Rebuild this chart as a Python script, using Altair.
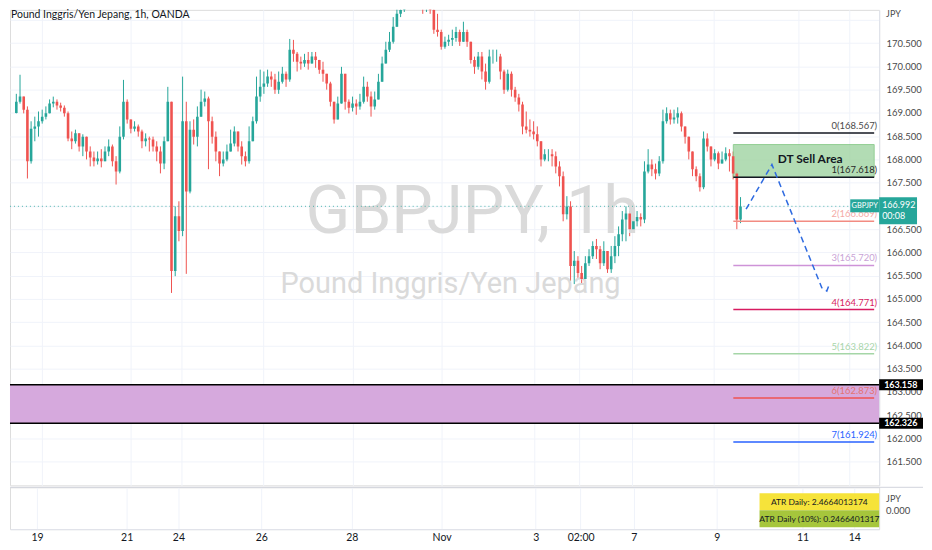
import altair as alt
import pandas as pd

# ---------------- data (2-hour candles, GBPJPY) ----------------
close = [169.24, 169.35, 169.07, 167.96, 168.66, 168.71, 168.82, 168.92, 168.99, 169.20,
         169.24, 169.16, 169.11, 168.99, 168.45, 168.39, 168.56, 168.28, 168.49, 168.17,
         168.04, 167.96, 168.02, 167.96, 168.17, 168.28, 167.96, 167.74, 168.49, 169.24,
         168.86, 168.66, 168.71, 168.60, 168.39, 168.45, 168.43, 168.28, 168.17, 167.91,
         168.39, 169.24, 165.60, 166.78, 166.46, 168.82, 167.31, 168.64, 168.49, 168.92,
         169.24, 169.31, 168.82, 168.49, 168.17, 167.91, 168.00, 168.17, 168.34, 168.60,
         168.28, 168.07, 167.96, 168.39, 168.82, 169.35, 169.56, 169.63, 169.78, 169.72,
         169.50, 169.67, 169.84, 169.72, 170.36, 170.27, 170.10, 170.06, 170.14, 170.06,
         170.21, 170.14, 169.93, 169.84, 169.63, 169.24, 168.86, 169.20, 169.84, 169.24,
         169.11, 169.20, 169.14, 169.24, 169.56, 169.35, 169.14, 169.29, 169.67, 170.06,
         170.36, 170.53, 170.85, 171.13, 171.21, 171.34, 171.56, 171.64, 171.60, 171.49,
         171.28, 171.34, 171.21, 170.79, 170.74, 170.42, 170.53, 170.57, 170.61, 170.74,
         170.53, 170.74, 170.53, 170.14, 169.99, 170.21, 169.89, 169.67, 170.21, 170.21,
         170.21, 169.89, 169.50, 169.84, 169.50, 169.33, 169.18, 168.71, 168.64, 168.60,
         168.54, 168.39, 168.00, 168.11, 168.11, 168.07, 167.85, 167.64, 166.82, 166.99,
         165.71, 165.82, 165.56, 165.43, 165.77, 165.92, 166.14, 166.07, 165.77, 166.03,
         165.64, 165.92, 166.14, 166.39, 166.71, 166.84, 166.50, 166.67, 166.76, 166.71,
         167.74, 167.89, 167.79, 167.70, 167.96, 168.82, 168.99, 168.86, 168.90, 168.99,
         168.71, 168.49, 168.17, 167.79, 167.64, 167.40, 168.45, 168.28, 168.00, 168.13,
         167.91, 168.00, 168.13, 168.07, 167.70, 166.71, 166.99]

high = [169.41, 169.82, 169.35, 169.14, 168.82, 168.92, 169.03, 169.07, 169.14, 169.29,
        169.35, 169.29, 169.22, 169.16, 169.03, 168.60, 168.64, 168.56, 168.54, 168.49,
        168.28, 168.17, 168.17, 168.22, 168.28, 168.43, 168.32, 168.07, 168.71, 169.71,
        169.29, 168.86, 168.82, 168.75, 168.64, 168.56, 168.49, 168.49, 168.39, 168.28,
        168.49, 169.56, 169.24, 166.99, 167.10, 169.78, 169.24, 168.82, 168.86, 169.14,
        169.50, 169.46, 169.35, 168.92, 168.60, 168.17, 168.17, 168.32, 168.64, 168.71,
        168.60, 168.39, 168.17, 168.71, 168.92, 169.78, 169.93, 169.89, 169.93, 169.89,
        169.84, 169.89, 169.99, 169.89, 170.59, 170.57, 170.31, 170.21, 170.27, 170.31,
        170.31, 170.31, 170.14, 170.10, 169.84, 169.67, 169.24, 169.35, 169.99, 169.78,
        169.29, 169.35, 169.29, 169.41, 169.78, 169.67, 169.46, 169.46, 169.84, 170.21,
        170.53, 170.74, 171.06, 171.34, 171.49, 171.60, 171.81, 171.92, 171.86, 171.81,
        171.60, 171.56, 171.49, 171.28, 171.13, 170.79, 170.64, 170.68, 170.79, 170.85,
        170.79, 170.96, 170.79, 170.53, 170.21, 170.31, 170.31, 170.06, 170.36, 170.36,
        170.36, 170.27, 169.93, 169.93, 169.89, 169.56, 169.41, 169.24, 169.03, 168.86,
        168.82, 168.71, 168.39, 168.22, 168.22, 168.22, 168.17, 167.96, 167.74, 167.21,
        167.10, 166.03, 165.92, 165.71, 165.92, 166.07, 166.24, 166.29, 166.14, 166.24,
        166.03, 166.14, 166.35, 166.56, 166.89, 166.99, 166.89, 166.84, 166.89, 166.84,
        167.96, 168.22, 168.00, 167.91, 168.07, 169.07, 169.12, 169.07, 169.07, 169.12,
        169.03, 168.71, 168.49, 168.17, 167.85, 167.70, 168.60, 168.56, 168.28, 168.22,
        168.17, 168.17, 168.26, 168.22, 168.17, 167.74, 167.19]

low = [168.99, 169.20, 168.99, 167.59, 167.91, 168.39, 168.49, 168.77, 168.86, 169.03,
       169.12, 169.07, 169.03, 168.92, 168.39, 168.22, 168.34, 168.17, 168.07, 168.00,
       167.85, 167.85, 167.89, 167.83, 167.96, 168.07, 167.85, 167.46, 167.70, 168.43,
       168.77, 168.56, 168.60, 168.49, 168.24, 168.28, 168.17, 168.17, 167.96, 167.70,
       167.79, 168.39, 165.13, 165.49, 166.24, 166.35, 165.54, 167.27, 168.32, 168.28,
       169.03, 169.14, 167.79, 168.34, 167.96, 167.64, 167.85, 167.96, 168.17, 168.28,
       168.17, 167.89, 167.85, 167.91, 168.39, 168.77, 169.24, 169.41, 169.56, 169.56,
       169.41, 169.41, 169.63, 169.56, 169.67, 170.10, 169.89, 169.93, 169.99, 169.93,
       170.06, 169.97, 169.84, 169.67, 169.50, 169.14, 168.77, 168.86, 169.24, 169.07,
       168.99, 169.03, 168.96, 169.07, 169.20, 169.24, 168.92, 169.07, 169.29, 169.67,
       170.10, 170.31, 170.49, 170.85, 171.06, 171.17, 171.28, 171.43, 171.39, 171.28,
       171.13, 171.17, 171.13, 170.70, 170.64, 170.36, 170.38, 170.44, 170.44, 170.53,
       170.44, 170.53, 170.42, 170.06, 169.84, 169.93, 169.72, 169.50, 169.63, 170.06,
       170.10, 169.72, 169.41, 169.46, 169.35, 169.24, 169.03, 168.54, 168.56, 168.49,
       168.43, 168.28, 167.85, 167.96, 167.96, 167.85, 167.70, 167.42, 166.67, 166.71,
       165.39, 165.32, 165.43, 165.34, 165.43, 165.71, 165.86, 165.86, 165.64, 165.71,
       165.56, 165.56, 165.77, 165.92, 166.24, 166.24, 166.35, 166.46, 166.56, 166.56,
       166.63, 167.70, 167.64, 167.57, 167.64, 167.91, 168.77, 168.75, 168.77, 168.77,
       168.60, 168.34, 168.00, 167.64, 167.53, 167.31, 167.36, 168.17, 167.85, 167.96,
       167.79, 167.91, 167.96, 167.74, 167.57, 166.50, 166.63]

first_open = 169.00
first_hour = 5
bar_hours = 2

# x-axis ticks (hour index from chart start) and their labels
tick_hours = [18.7, 66.7, 94.4, 138.7, 187.2, 235.2, 285.6, 309.6, 338.1, 382.4, 428.3, 456.0]
tick_labels = ["19", "21", "24", "26", "28", "Nov", "3", "02:00", "7", "9", "11", "14"]

price_ticks = [161.5, 162.0, 162.5, 163.0, 163.5, 164.0, 164.5, 165.0, 165.5, 166.0,
               166.5, 167.0, 167.5, 168.0, 168.5, 169.0, 169.5, 170.0, 170.5, 171.0]
hidden_ticks = [167.0, 171.0]   # covered by the price tag / the JPY caption

# Fibonacci levels
fib_levels = ["0", "1", "2", "3", "4", "5", "6", "7"]
fib_prices = [168.567, 167.618, 166.669, 165.720, 164.771, 163.822, 162.873, 161.924]
fib_line_colors = ["#131722", "#131722", "#f28b82", "#ce93d8", "#d81b60", "#a5d6a7", "#ef5350", "#2962ff"]
fib_text_colors = ["#4a4a4a", "#2a2a2a", "#f4aaa6", "#c9a3d6", "#d81b60", "#a8d5aa", "#e57373", "#2962ff"]
fib_start_hour = 393.1

# DT sell area box
sell_low, sell_high = 167.618, 168.32
sell_label = "DT Sell Area"
sell_label_hour, sell_label_price = 434.7, 168.0

# support zone
zone_low, zone_high = 162.326, 163.158

# projected path (dashed)
path_hours = [400.0, 414.0, 441.0, 443.7, 445.3]
path_prices = [166.93, 167.89, 165.24, 165.17, 165.34]

last_price = 166.992
countdown = "00:08"
symbol = "GBPJPY"
title_text = "Pound Inggris/Yen Jepang, 1h, OANDA"
wm_big = "GBPJPY, 1h"
wm_small = "Pound Inggris/Yen Jepang"
atr_lines = ["ATR Daily: 2.4664013174", "ATR Daily (10%): 0.2466401317"]

# ---------------- layout ----------------
W = 872
H_MAIN = 477
H_ATR = 42
PX_PER_HOUR = 1.875
X0 = 4.27
X1 = X0 + W / PX_PER_HOUR
Y0, Y1 = 160.994, 171.215
UP, DOWN = "#26a69a", "#ef5350"
FONT = "Lato"
WM_FONT = "Roboto"
GRID = "#f0f3fa"
LBL = "#4a4a4a"

xs = alt.Scale(domain=[X0, X1], nice=False, zero=False)
ys = alt.Scale(domain=[Y0, Y1], nice=False, zero=False)

labels_js = "[" + ",".join(f"'{t}'" for t in tick_labels) + "]"
hours_js = "[" + ",".join(str(h) for h in tick_hours) + "]"
x_label_expr = f"{labels_js}[indexof({hours_js}, datum.value)]"
hidden_js = "[" + ",".join(str(v) for v in hidden_ticks) + "]"
y_label_expr = f"indexof({hidden_js}, datum.value) >= 0 ? '' : format(datum.value, '.3f')"

main_x_axis = alt.Axis(values=tick_hours, labels=False, ticks=False, domain=False,
                       grid=True, gridColor=GRID, title=None)
y_axis = alt.Axis(orient="right", values=price_ticks, labelExpr=y_label_expr, title=None, ticks=False,
                  domain=True, domainColor="#e0e3eb", grid=True, gridColor=GRID,
                  labelPadding=7, labelFontSize=9.5, labelColor=LBL, labelFont=FONT)


def X(f):
    return alt.X(f, type="quantitative", scale=xs, axis=main_x_axis)


def Y(f):
    return alt.Y(f, type="quantitative", scale=ys, axis=y_axis)


n = len(close)
hours = [first_hour + bar_hours * i for i in range(n)]
opens = [first_open] + close[:-1]
df = pd.DataFrame(dict(hour=hours, open=opens, high=high, low=low, close=close))
df["high"] = df[["high", "open", "close"]].max(axis=1)
df["low"] = df[["low", "open", "close"]].min(axis=1)
df["dir"] = ["up" if c >= o else "down" for o, c in zip(df.open, df.close)]
ccol = alt.Color("dir:N", scale=alt.Scale(domain=["up", "down"], range=[UP, DOWN]), legend=None)

one = pd.DataFrame({"k": [0]})

zone = alt.Chart(pd.DataFrame({"lo": [zone_low], "hi": [zone_high]})).mark_rect(
    color="#d6a9dd").encode(x=alt.value(0), x2=alt.value(W), y=Y("lo"), y2="hi")

wm1 = alt.Chart(one).mark_text(text=wm_big, font=WM_FONT, fontSize=66, color="#dadada",
                               align="center", baseline="middle").encode(
    x=alt.value(464), y=alt.value(204))
wm2 = alt.Chart(one).mark_text(text=wm_small, font=WM_FONT, fontSize=29, color="#dadada",
                               align="center", baseline="middle").encode(
    x=alt.value(442), y=alt.value(275))

price_line = alt.Chart(pd.DataFrame({"p": [last_price]})).mark_rule(
    color=UP, strokeDash=[1, 3], strokeWidth=1, opacity=0.8).encode(
    x=alt.value(0), x2=alt.value(W), y=Y("p"))

sell_box = alt.Chart(pd.DataFrame({"a": [fib_start_hour], "b": [X1], "lo": [sell_low], "hi": [sell_high]})
                     ).mark_rect(color="#a5d6a7", opacity=0.85, stroke="#81c784", strokeWidth=1).encode(
    x=X("a"), x2="b", y=Y("lo"), y2="hi")

wick = alt.Chart(df).mark_rule(clip=True, strokeWidth=1).encode(
    x=X("hour"), y=Y("low"), y2="high", color=ccol)
body = alt.Chart(df).mark_bar(clip=True, width=2.6).encode(
    x=X("hour"), y=Y("open"), y2="close", color=ccol)

fib_df = pd.DataFrame({
    "level": fib_levels, "price": fib_prices, "lc": fib_line_colors, "tc": fib_text_colors,
    "start": [fib_start_hour] * len(fib_levels), "end": [X1] * len(fib_levels),
})
fib_df["label"] = [f"{l}({p:.3f})" for l, p in zip(fib_levels, fib_prices)]

fib_lines = alt.Chart(fib_df).mark_rule(strokeWidth=1.5).encode(
    x=X("start"), x2="end", y=Y("price"), color=alt.Color("lc:N", scale=None))
fib_text = alt.Chart(fib_df).mark_text(align="right", baseline="middle", dy=-7, font=FONT,
                                       fontSize=9.5).encode(
    x=alt.value(W - 2), y=Y("price"), text="label:N", color=alt.Color("tc:N", scale=None))

zone_edges = alt.Chart(pd.DataFrame({"p": [zone_low, zone_high]})).mark_rule(
    color="#000000", strokeWidth=1.5).encode(x=alt.value(0), x2=alt.value(W), y=Y("p"))

sell_txt = alt.Chart(pd.DataFrame({"h": [sell_label_hour], "p": [sell_label_price]})).mark_text(
    text=sell_label, font=FONT, fontSize=12, fontWeight="bold", color="#131722",
    align="center", baseline="middle").encode(x=X("h"), y=Y("p"))

path_df = pd.DataFrame({"h": path_hours, "p": path_prices, "o": list(range(len(path_hours)))})
path = alt.Chart(path_df).mark_line(color="#2f6be0", strokeWidth=1.5, strokeDash=[6, 4]).encode(
    x=X("h"), y=Y("p"), order="o:Q")

lp = pd.DataFrame({"p": [last_price]})
sym_box = alt.Chart(lp).mark_rect(color=UP, yOffset=-7, y2Offset=6).encode(
    x=alt.value(W - 29), x2=alt.value(W), y=Y("p"), y2="p")
sym_txt = alt.Chart(lp).mark_text(text=symbol, color="white", font=FONT, fontSize=7.5,
                                  align="center", baseline="middle", dy=-0.5).encode(
    x=alt.value(W - 14.5), y=Y("p"))

tag_box = alt.Chart(lp).mark_rect(color=UP, yOffset=-9, y2Offset=18).encode(
    x=alt.value(W), x2=alt.value(W + 38), y=Y("p"), y2="p")
tag_txt1 = alt.Chart(lp).mark_text(text=f"{last_price:.3f}", color="white", font=FONT, fontSize=9,
                                   align="left", baseline="middle", dy=-1).encode(
    x=alt.value(W + 3), y=Y("p"))
tag_txt2 = alt.Chart(lp).mark_text(text=countdown, color="white", font=FONT, fontSize=9,
                                   align="left", baseline="middle", dy=10).encode(
    x=alt.value(W + 3), y=Y("p"))

zt = pd.DataFrame({"p": [zone_high, zone_low]})
zt["t"] = [f"{v:.3f}" for v in zt.p]
ztag_box = alt.Chart(zt).mark_rect(color="#000000", yOffset=-5.5, y2Offset=5.5).encode(
    x=alt.value(W), x2=alt.value(W + 44), y=Y("p"), y2="p")
ztag_txt = alt.Chart(zt).mark_text(color="white", font=FONT, fontSize=9, fontWeight="bold",
                                   align="left", baseline="middle").encode(
    x=alt.value(W + 5), y=Y("p"), text="t:N")

jpy_top = alt.Chart(one).mark_text(text="JPY", font=FONT, fontSize=9, color=LBL,
                                   align="left", baseline="top").encode(
    x=alt.value(W + 7), y=alt.value(0))
title = alt.Chart(one).mark_text(text=title_text, font=FONT, fontSize=10.5, color="#131722",
                                 align="left", baseline="top").encode(
    x=alt.value(1), y=alt.value(0))

main = alt.layer(
    wick, zone, wm1, wm2, price_line, sell_box, body, fib_lines, fib_text, zone_edges,
    sell_txt, path, sym_box, sym_txt, tag_box, tag_txt1, tag_txt2, ztag_box, ztag_txt,
    jpy_top, title,
).properties(width=W, height=H_MAIN)

# ---------------- ATR pane ----------------
atr_x_axis = alt.Axis(values=tick_hours, labelExpr=x_label_expr, ticks=False, domain=True,
                      domainColor="#e0e3eb", grid=True, gridColor=GRID, title=None,
                      labelPadding=3, labelFontSize=10.5, labelColor="#131722", labelFont=FONT)

ticks_df = pd.DataFrame({"h": tick_hours})
axis_holder = alt.Chart(ticks_df).mark_rule(opacity=0).encode(
    x=alt.X("h:Q", scale=xs, axis=atr_x_axis))
sep = alt.Chart(one).mark_rule(color="#d1d4dc", strokeWidth=1).encode(
    x=alt.value(0), x2=alt.value(W + 44), y=alt.value(0))
BX0, BX1 = W - 120, W
ybox = alt.Chart(one).mark_rect(color="#f6e33a").encode(
    x=alt.value(BX0), x2=alt.value(BX1), y=alt.value(6), y2=alt.value(23))
gbox = alt.Chart(one).mark_rect(color="#a6c63c").encode(
    x=alt.value(BX0), x2=alt.value(BX1), y=alt.value(23), y2=alt.value(40))
yt = alt.Chart(one).mark_text(text=atr_lines[0], font=FONT, fontSize=8.5, color="#131722",
                              align="center", baseline="middle").encode(
    x=alt.value((BX0 + BX1) / 2), y=alt.value(14.5))
gt = alt.Chart(one).mark_text(text=atr_lines[1], font=FONT, fontSize=8.5, color="#131722",
                              align="center", baseline="middle").encode(
    x=alt.value((BX0 + BX1) / 2), y=alt.value(31.5))
jpy2 = alt.Chart(one).mark_text(text="JPY", font=FONT, fontSize=9, color=LBL,
                                align="left", baseline="middle").encode(
    x=alt.value(W + 7), y=alt.value(12))
zero_lbl = alt.Chart(one).mark_text(text="0.000", font=FONT, fontSize=9.5, color=LBL,
                                    align="left", baseline="middle").encode(
    x=alt.value(W + 7), y=alt.value(24))

atr = alt.layer(axis_holder, sep, ybox, gbox, yt, gt, jpy2, zero_lbl).properties(
    width=W, height=H_ATR)

chart = alt.vconcat(main, atr, spacing=0).resolve_scale(
    x="independent", y="independent").properties(padding=0, background="white").configure_view(
    stroke=None).configure(font=FONT)

chart.save("out.html", embed_options={"renderer": "svg", "actions": False})
